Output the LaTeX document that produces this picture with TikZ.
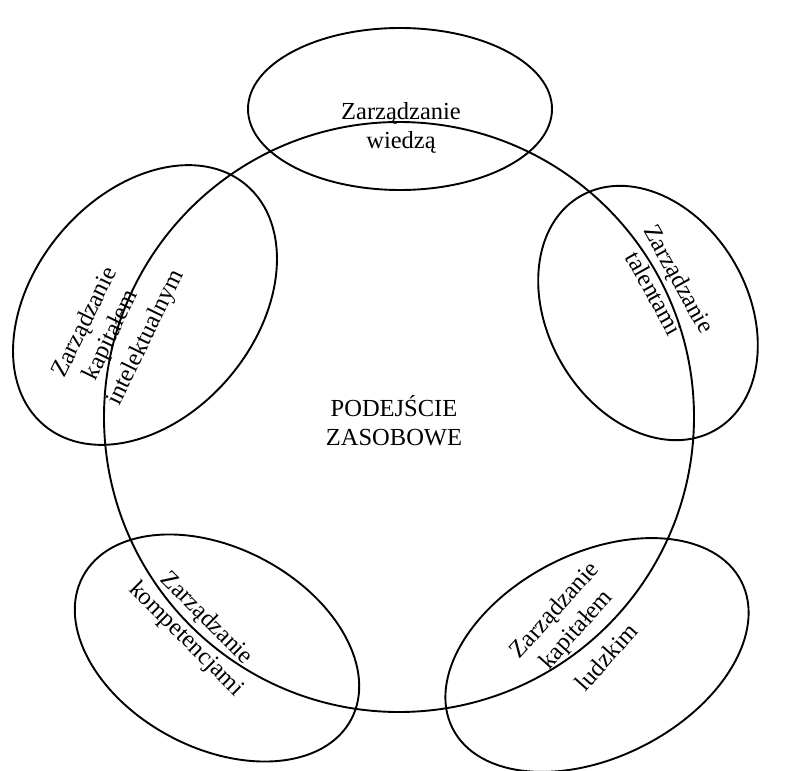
\documentclass[tikz,border=0pt]{standalone}
\usepackage{fontspec}
\setmainfont{Liberation Serif}
\tikzset{
  ring/.style={line width=1.9pt},
  lbl/.style={font=\fontsize{24.5}{29}\selectfont, align=center, inner sep=0pt}
}
\begin{document}
\begin{tikzpicture}[x=1pt,y=-1pt]
\useasboundingbox (0,0) rectangle (809,771);
% central circle
\draw[ring] (399,417) circle [radius=295pt];
% top ellipse
\draw[ring] (400,109) ellipse [x radius=152pt, y radius=81pt];
% right ellipse
\draw[ring, rotate around={-60:(648,313)}] (648,313) ellipse [x radius=135pt, y radius=100pt];
% bottom-right ellipse
\draw[ring, rotate around={27:(597,655)}] (597,655) ellipse [x radius=162pt, y radius=102pt];
% bottom-left ellipse
\draw[ring, rotate around={-28:(217,648)}] (217,648) ellipse [x radius=152pt, y radius=100pt];
% left ellipse
\draw[ring, rotate around={50:(145,305)}] (145,305) ellipse [x radius=157pt, y radius=111pt];
% labels
\node[lbl] (center) at (394,421) {PODEJŚCIE\\ZASOBOWE};
\node[lbl] (wiedza) at (401,128) {Zarządzanie\\wiedzą};
\node[lbl, rotate=-61] (talent) at (667,286) {Zarządzanie\\talentami};
\node[lbl, rotate=48] (ludzki) at (580,633) {Zarządzanie\\kapitałem\\[13pt]ludzkim};
\node[lbl, rotate=-45] (kompet) at (196,629) {Zarządzanie\\kompetencjami};
\node[lbl, rotate=64] (intel) at (113,336) {Zarządzanie\\kapitałem\\[3pt]\hspace*{26pt}intelektualnym};
\end{tikzpicture}
\end{document}
